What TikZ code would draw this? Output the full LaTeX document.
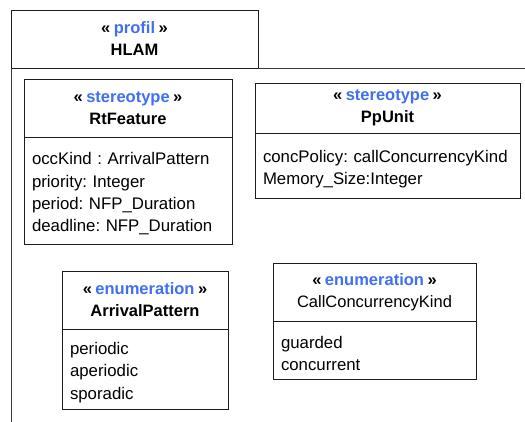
\documentclass[tikz,border=0pt]{standalone}
\usepackage{fontspec}
\setmainfont{Liberation Sans}
\usetikzlibrary{positioning}
\definecolor{Stereo}{HTML}{4070F2}
\definecolor{Edge}{HTML}{1C1C1C}
\definecolor{Frame}{HTML}{3A3A3A}
\frenchspacing
\newcommand{\stereo}[1]{«\hspace{3.5pt}\textcolor{Stereo}{#1}\hspace{3.5pt}»}
\tikzset{
  umlhead/.style={draw=Edge,line width=1pt,fill=white,outer sep=0pt,inner sep=0pt,align=center,
    font=\fontsize{16.5}{22}\selectfont\bfseries},
  umlbody/.style={draw=Edge,line width=1pt,fill=white,outer sep=0pt,inner xsep=8pt,inner ysep=0pt,align=left,
    execute at begin node={\rule{0pt}{19pt}},font=\fontsize{16.8}{22.4}\selectfont},
  pkgline/.style={draw=Frame,line width=1pt}
}
\begin{document}
\begin{tikzpicture}[x=1pt,y=-1pt]
  \useasboundingbox (0,0) rectangle (525,421);
  % profile tab and frame
  \node[umlhead,anchor=north west,minimum width=247,minimum height=58] (tab) at (11,10) {\stereo{profil}\\HLAM};
  \coordinate (pkgbottom) at (11,425);
  \coordinate (pkgright) at (527,68);
  \draw[pkgline] (tab.south west) -- (pkgbottom);
  \draw[pkgline] (tab.south east) -- (pkgright);
  % stereotypes
  \node[umlhead,anchor=north west,minimum width=208,minimum height=58] (rtfhead) at (24,79) {\stereo{stereotype}\\RtFeature};
  \node[umlbody,below=0pt of rtfhead,text width=192,minimum height=107] (rtfbody) {occKind : ArrivalPattern\\priority: Integer\\period: NFP\_Duration\\deadline: NFP\_Duration};
  \node[umlhead,anchor=north west,minimum width=265,minimum height=50] (ppuhead) at (255,83) {\stereo{stereotype}\\PpUnit};
  \node[umlbody,below=0pt of ppuhead,text width=249,minimum height=65] (ppubody) {concPolicy: callConcurrencyKind\\Memory\_Size:Integer};
  % enumerations
  \node[umlhead,anchor=north west,minimum width=166,minimum height=58] (arrhead) at (62,271) {\stereo{enumeration}\\ArrivalPattern};
  \node[umlbody,below=0pt of arrhead,text width=150,minimum height=80] (arrbody) {periodic\\aperiodic\\sporadic};
  \node[umlhead,anchor=north west,minimum width=203,minimum height=58] (cckhead) at (273,263) {\stereo{enumeration}\\\mdseries CallConcurrencyKind};
  \node[umlbody,below=0pt of cckhead,text width=187,minimum height=58] (cckbody) {guarded\\concurrent};
\end{tikzpicture}
\end{document}
